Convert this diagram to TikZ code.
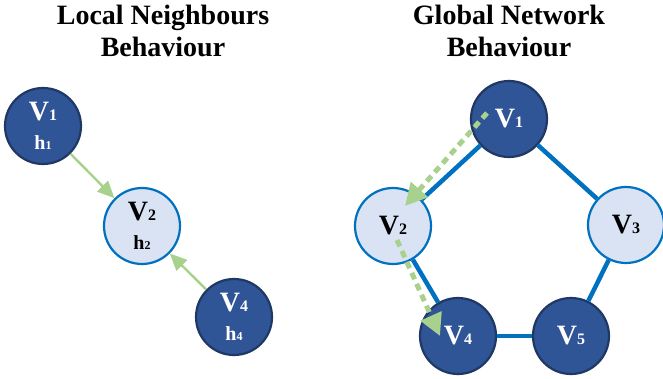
\documentclass[tikz,border=0pt]{standalone}
\usepackage{fontspec}
\setmainfont{Liberation Serif}
\usetikzlibrary{arrows.meta}
\definecolor{darkfill}{HTML}{2F5597}
\definecolor{darkline}{HTML}{1F3864}
\definecolor{lightfill}{HTML}{DAE3F3}
\definecolor{lightline}{HTML}{0070C0}
\definecolor{edgeblue}{HTML}{0070C0}
\definecolor{arrowgreen}{HTML}{A9D18E}
\newcommand{\vlab}[1]{V{\fontsize{16}{28}\selectfont #1}}
\newcommand{\hlab}[1]{{\fontsize{20}{28}\selectfont h}{\fontsize{12}{28}\selectfont #1}}
\tikzset{
  darknode/.style={circle, draw=darkline, line width=2.2pt, fill=darkfill, text=white, minimum size=76pt, inner sep=0pt, align=center, font=\fontsize{28}{29}\selectfont\bfseries},
  lightnode/.style={circle, draw=lightline, line width=2.2pt, fill=lightfill, text=black, minimum size=76pt, inner sep=0pt, align=center, font=\fontsize{28}{29}\selectfont\bfseries},
  title/.style={font=\fontsize{28}{32}\selectfont\bfseries, align=center},
  edgeline/.style={draw=edgeblue, line width=4.5pt},
  localarrow/.style={draw=arrowgreen, line width=2.4pt, -{Triangle[length=17pt,width=15pt]}},
  flowarrow/.style={draw=arrowgreen, line width=5pt, dash pattern=on 7pt off 5pt, -{Triangle[length=22pt,width=22pt]}}
}
\begin{document}
\begin{tikzpicture}[x=1pt,y=-1pt]
\useasboundingbox (0,0) rectangle (663,379);
% titles
\node[title] (t1) at (163,31) {Local Neighbours\\Behaviour};
\node[title] (t2) at (509,31) {Global Network\\Behaviour};
% left
\node[darknode] (L1) at (43,126) {\vlab{1}\\\hlab{1}};
\node[lightnode] (L2) at (142,226) {\vlab{2}\\\hlab{2}};
\node[darknode] (L4) at (234,317) {\vlab{4}\\\hlab{4}};
\draw[localarrow] (L1) -- (L2);
\draw[localarrow] (L4) -- (L2);
% right
\node[darknode] (R1) at (509,119) {\vlab{1}};
\node[lightnode] (R2) at (393,226) {\vlab{2}};
\node[lightnode] (R3) at (626,225) {\vlab{3}};
\node[darknode] (R4) at (458,336) {\vlab{4}};
\node[darknode] (R5) at (571,336) {\vlab{5}};
\draw[edgeline] (R1) -- (R2);
\draw[edgeline] (R1) -- (R3);
\draw[edgeline] (R3) -- (R5);
\draw[edgeline] (R5) -- (R4);
\draw[edgeline] (R4) -- (R2);
\coordinate (d1s) at (487,113);
\coordinate (d1e) at (405,206);
\coordinate (d2s) at (397,240);
\coordinate (d2e) at (440,336);
\draw[flowarrow] (d1s) -- (d1e);
\draw[flowarrow] (d2s) -- (d2e);
\end{tikzpicture}
\end{document}
